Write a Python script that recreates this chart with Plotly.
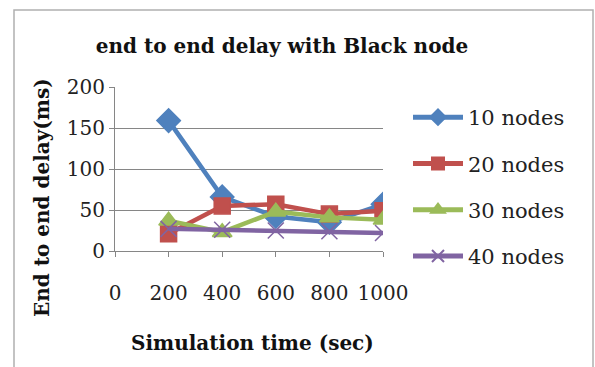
import plotly.graph_objects as go

# Simulation time (sec) and end-to-end delay (ms) per network size
sim_time = [200, 400, 600, 800, 1000]
delay_10 = [159, 66, 42, 35, 57]
delay_20 = [21, 55, 57, 45, 49]
delay_30 = [37, 23, 48, 41, 38]
delay_40 = [27, 26, 25, 24, 22]

x_ticks = [0, 200, 400, 600, 800, 1000]
y_ticks = [0, 50, 100, 150, 200]

series = [
    ("10 nodes", delay_10, "#4F81BD", "diamond", 18),
    ("20 nodes", delay_20, "#C0504D", "square", 16),
    ("30 nodes", delay_30, "#9BBB59", "triangle-up", 17),
    ("40 nodes", delay_40, "#8064A2", "x-thin-open", 16),
]

serif = "DejaVu Serif, Liberation Serif, serif"

fig = go.Figure()
for name, vals, color, sym, size in series:
    fig.add_trace(go.Scatter(
        x=sim_time, y=vals, name=name, mode="lines+markers",
        legendgroup=name,
        line=dict(color=color, width=4.5),
        marker=dict(symbol=sym, size=size, color=color,
                    line=dict(color=color, width=1.5)),
    ))

L, R, T, B = 115, 212, 87, 116
W, H = 595, 367
pw, ph = W - L - R, H - T - B

def px_x(p):
    return (p - L) / pw

def px_y(p):
    return (H - B - p) / ph

fig.update_layout(
    width=W, height=H,
    margin=dict(l=L, r=R, t=T, b=B, pad=0),
    paper_bgcolor="white", plot_bgcolor="white",
    font=dict(family=serif, size=19, color="#222222"),
    title=dict(text="<b>end to end delay with Black node</b>",
               xref="paper", x=px_x(282), xanchor="center",
               yref="container", y=1 - 46 / H, yanchor="middle",
               font=dict(family=serif, size=20, color="#111111")),
    showlegend=True,
    legend=dict(x=px_x(408), y=px_y(97), xanchor="left", yanchor="top",
                font=dict(family=serif, size=21, color="#222222"),
                tracegroupgap=16, itemsizing="constant", maxheight=400,
                bgcolor="rgba(0,0,0,0)", itemwidth=50),
    xaxis=dict(range=[0, 1000], tickvals=x_ticks,
               ticktext=[str(v) for v in x_ticks],
               showgrid=False, zeroline=False,
               showline=True, linecolor="#868686", linewidth=1,
               ticks="outside", ticklen=5, tickcolor="#868686",
               ticklabelstandoff=19,
               tickfont=dict(family=serif, size=20, color="#222222")),
    yaxis=dict(range=[0, 200], tickvals=y_ticks,
               showgrid=True, gridcolor="#868686", gridwidth=1,
               zeroline=False,
               showline=True, linecolor="#868686", linewidth=1,
               ticks="outside", ticklen=5, tickcolor="#868686",
               tickfont=dict(family=serif, size=20, color="#222222")),
    shapes=[dict(type="rect", xref="paper", yref="paper",
                 x0=px_x(14), x1=px_x(593), y0=px_y(380), y1=px_y(10),
                 line=dict(color="#b0b0b0", width=1.5), layer="below")],
    annotations=[
        dict(text="<b>End to end delay(ms)</b>", textangle=-90,
             xref="paper", yref="paper", x=px_x(42), y=px_y(198),
             xanchor="center", yanchor="middle", showarrow=False,
             font=dict(family=serif, size=20, color="#111111")),
        dict(text="<b>Simulation time (sec)</b>",
             xref="paper", yref="paper", x=px_x(252), y=px_y(343),
             xanchor="center", yanchor="middle", showarrow=False,
             font=dict(family=serif, size=20, color="#111111")),
    ],
)

fig.write_html("out.html")
